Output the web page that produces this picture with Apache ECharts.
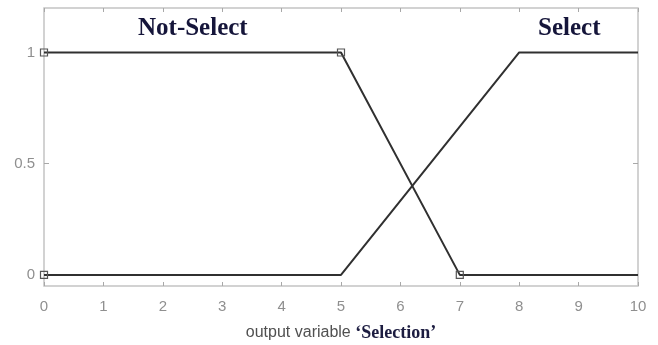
<!DOCTYPE html>
<html>
<head>
<meta charset="utf-8">
<script src="https://cdn.jsdelivr.net/npm/echarts@6/dist/echarts.min.js"></script>
<style>
  html, body { margin: 0; padding: 0; background: #fff; }
  #chart { width: 658px; height: 345px; }
</style>
</head>
<body>
<div id="chart"></div>
<script>
// Membership functions of the output variable "Selection"
const notSelectX = [0, 5, 7, 10];
const notSelectY = [1, 1, 0, 0];
const notSelectMarked = [true, true, true, false];

const selectX = [0, 5, 8, 10];
const selectY = [0, 0, 1, 1];
const selectMarked = [true, false, false, false];

const xTicks = [0, 1, 2, 3, 4, 5, 6, 7, 8, 9, 10];
const yTicks = [0, 0.5, 1];

const mfNames = ['Not-Select', 'Select'];
const axisTitle = 'output variable';
const varName = '‘Selection’';

function buildData(xs, ys, marks) {
  return xs.map((x, i) => ({
    value: [x, ys[i]],
    symbol: marks[i] ? 'rect' : 'none'
  }));
}

const lineColor = '#303030';
const frameColor = '#c4c4c4';
const labelColor = '#8f8f8f';
const tickStyle = { color: '#a8a8a8' };

const chart = echarts.init(document.getElementById('chart'), null, { renderer: 'canvas' });

const lineSeries = (name, data) => ({
  name,
  type: 'line',
  data,
  symbolSize: 7,
  showAllSymbol: true,
  lineStyle: { color: lineColor, width: 2 },
  itemStyle: { color: 'rgba(255,255,255,0)', borderColor: '#555', borderWidth: 1.2 },
  emphasis: { disabled: true },
  animation: false,
  z: 3
});

const xBase = {
  type: 'value', min: xTicks[0], max: xTicks[xTicks.length - 1], interval: 1,
  axisLine: { show: false, onZero: false },
  axisTick: { show: true, inside: true, length: 4, lineStyle: tickStyle },
  splitLine: { show: false }
};
const yBase = {
  type: 'value', min: -0.05, max: 1.2,
  axisLine: { show: false, onZero: false },
  axisTick: { show: true, inside: true, length: 5, lineStyle: tickStyle, customValues: yTicks },
  splitLine: { show: false }
};

chart.setOption({
  animation: false,
  grid: {
    left: 44, right: 20, top: 8, bottom: 59,
    containLabel: false,
    outerBoundsMode: 'none',
    show: true, borderColor: frameColor, borderWidth: 1.5, backgroundColor: '#fff'
  },
  xAxis: [Object.assign({}, xBase, {
    position: 'bottom',
    axisLabel: { color: labelColor, fontFamily: 'Liberation Sans, Arial', fontSize: 15, margin: 13 },
    name: '{a|' + axisTitle + ' }{b|' + varName + '}',
    nameLocation: 'middle',
    nameGap: 38,
    nameTextStyle: {
      rich: {
        a: { color: '#505050', fontFamily: 'Liberation Sans, Arial', fontSize: 16 },
        b: { color: '#1c1c40', fontFamily: 'Liberation Serif, Times New Roman', fontSize: 18, fontWeight: 'bold' }
      }
    }
  }), Object.assign({}, xBase, {
    position: 'top',
    axisLabel: { show: false }
  })],
  yAxis: [Object.assign({}, yBase, {
    position: 'left',
    axisLabel: { color: labelColor, fontFamily: 'Liberation Sans, Arial', fontSize: 15, margin: 9, customValues: yTicks }
  }), Object.assign({}, yBase, {
    position: 'right',
    axisLabel: { show: false }
  })],
  graphic: [{
    type: 'text', left: 138, top: 16, silent: true,
    style: { text: mfNames[0], fill: '#15153a', font: 'bold 25px "Liberation Serif", "Times New Roman", serif' }
  }, {
    type: 'text', left: 538, top: 16, silent: true,
    style: { text: mfNames[1], fill: '#15153a', font: 'bold 25px "Liberation Serif", "Times New Roman", serif' }
  }],
  series: [
    lineSeries(mfNames[0], buildData(notSelectX, notSelectY, notSelectMarked)),
    lineSeries(mfNames[1], buildData(selectX, selectY, selectMarked))
  ]
});
</script>
</body>
</html>
